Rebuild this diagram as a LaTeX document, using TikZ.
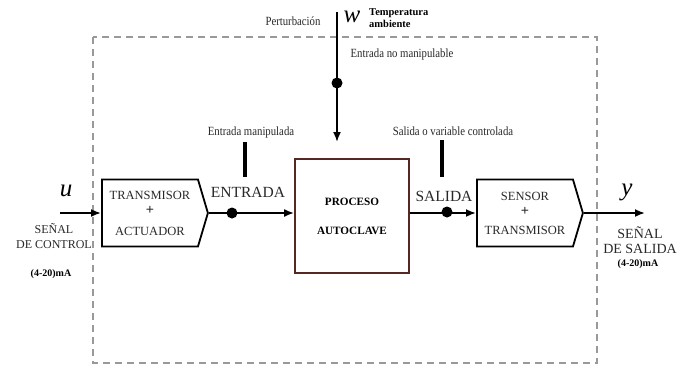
\documentclass[tikz,border=0pt]{standalone}
\usepackage{fontspec}
\usepackage{graphicx}
\setmainfont{Liberation Serif}
\usetikzlibrary{shapes.symbols, arrows.meta, positioning}
\definecolor{txtGray}{RGB}{40,40,40}
\definecolor{procBrown}{RGB}{85,40,35}
\newcommand{\cond}[1]{\scalebox{0.86}[1]{#1}}
\tikzset{
    >={Latex[length=10pt,width=8pt]},
    % Bloques
    blk/.style={signal, signal to=east, signal pointer angle=147, draw, line width=1.8pt,
                minimum width=106pt, minimum height=67pt, inner sep=0pt, align=center,
                font=\fontsize{12.5}{13}\selectfont, text=txtGray},
    procBox/.style={rectangle, draw=procBrown, line width=1.8pt,
                    minimum width=114pt, minimum height=114pt, align=center,
                    font=\bfseries\fontsize{11.2}{12}\selectfont},
    % Flechas y etiquetas
    flow/.style={->, line width=1.8pt},
    sumDot/.style={circle, fill, inner sep=0pt, minimum size=11pt},
    marca/.style={line width=3.2pt},
    lbl/.style={font=\fontsize{12.5}{13}\selectfont, text=txtGray, inner sep=0pt},
    bigLbl/.style={font=\fontsize{15.5}{17}\selectfont, text=txtGray, inner sep=0pt},
    sigLbl/.style={font=\fontsize{12}{15}\selectfont, text=txtGray, align=center, inner sep=0pt},
    maLbl/.style={font=\bfseries\fontsize{10}{12}\selectfont, inner sep=0pt},
    varLbl/.style={font=\itshape\fontsize{25}{25}\selectfont, inner sep=0pt},
    frontera/.style={draw=gray!80, dash pattern=on 7pt off 5pt, line width=1.3pt}
}
\begin{document}
\begin{tikzpicture}[x=1pt, y=-1pt]
\useasboundingbox (0,0) rectangle (689,373);

% Frontera del sistema
\draw[frontera] (93,37) rectangle (597,363);

% Bloques
\node[blk, anchor=west] (tx) at (101,213) {TRANSMISOR\\[2pt]{\bfseries\Large +}\\[8pt]ACTUADOR};
\node[procBox] (proc) at (352,216) {PROCESO\\[17pt]AUTOCLAVE};
\node[blk, anchor=west] (sen) at (476,213) {SENSOR\\[2pt]{\bfseries\Large +}\\[6pt]TRANSMISOR};

% Puntos de suma y marcas
\node[sumDot] (dotE) at (232,213) {};
\node[sumDot] (dotS) at (447,212) {};
\node[sumDot] (dotW) at (337,83) {};
\coordinate (uIn) at (60,213);
\coordinate (yOut) at (645,213);
\coordinate (wIn) at (337,12);
\coordinate (wEnd) at (337,142);
\coordinate (mE1) at (245,142);
\coordinate (mE2) at (245,177);
\coordinate (mS1) at (442,140);
\coordinate (mS2) at (442,177);

% Flechas
\draw[flow] (uIn) -- (tx.west);
\draw[flow] (tx.east) -- (dotE.center) -- (tx.east -| proc.west);
\draw[flow] (proc.east |- sen.west) -- (dotS.center |- sen.west) -- (sen.west);
\draw[flow] (sen.east) -- (yOut);
\draw[flow] (wIn) -- (dotW.center) -- (wEnd);
\draw[marca] (mE1) -- (mE2);
\draw[marca] (mS1) -- (mS2);

% Etiquetas
\node[varLbl] (u) at (66,191) {u};
\node[sigLbl] (senCtrl) at (54,236) {SEÑAL\\DE CONTROL};
\node[maLbl] (maIn) at (51,274) {(4-20)mA};
\node[bigLbl] (entrada) at (248,192) {ENTRADA};
\node[lbl] (manip) at (251,132) {\cond{Entrada manipulada}};
\node[bigLbl] (salida) at (444,196) {SALIDA};
\node[lbl] (contr) at (453,131) {\cond{Salida o variable controlada}};
\node[lbl] (pert) at (293,21) {\cond{Perturbación}};
\node[varLbl] (w) at (352,17) {w};
\node[font=\bfseries\fontsize{10.5}{12}\selectfont, align=left, anchor=west, inner sep=0pt] (temp) at (369,18) {Temperatura\\ambiente};
\node[lbl] (noManip) at (402,54) {\cond{Entrada no manipulable}};
\node[varLbl] (y) at (627,192) {y};
\node[sigLbl, font=\fontsize{14}{15}\selectfont] (senSal) at (640,240) {SEÑAL\\DE SALIDA};
\node[maLbl] (maOut) at (638,264) {(4-20)mA};

\end{tikzpicture}
\end{document}
